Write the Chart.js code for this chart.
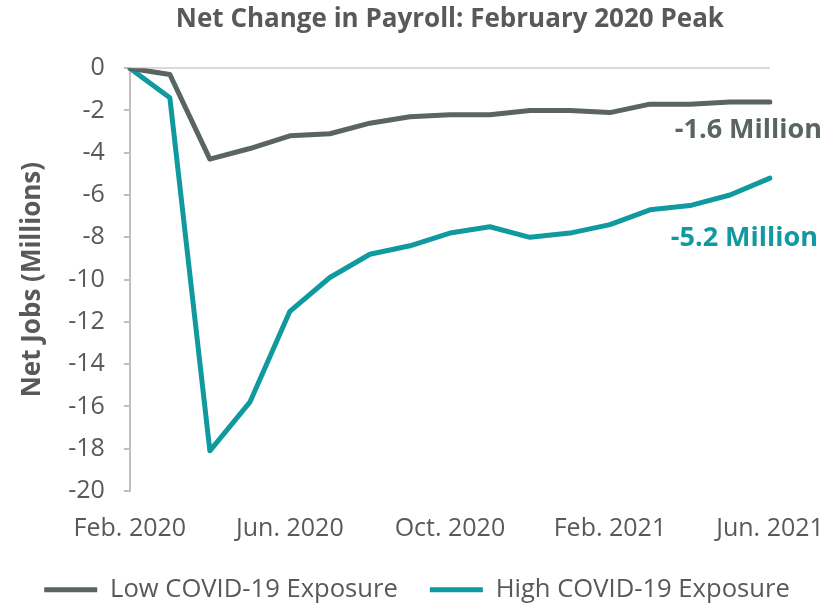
<!DOCTYPE html>
<html>
<head>
<meta charset="utf-8">
<script src="https://cdn.jsdelivr.net/npm/chart.js@4.4.1/dist/chart.umd.min.js"></script>
<style>
  html, body { margin: 0; padding: 0; background: #fff; }
  #wrap { width: 834px; height: 611px; }
</style>
</head>
<body>
<div id="wrap"><canvas id="payrollChart" width="834" height="611"></canvas></div>
<script>
// months from the February 2020 peak
const months = [
  "Feb. 2020", "Mar. 2020", "Apr. 2020", "May 2020", "Jun. 2020", "Jul. 2020",
  "Aug. 2020", "Sep. 2020", "Oct. 2020", "Nov. 2020", "Dec. 2020", "Jan. 2021",
  "Feb. 2021", "Mar. 2021", "Apr. 2021", "May 2021", "Jun. 2021"
];
const lowExposure = [0, -0.3, -4.3, -3.8, -3.2, -3.1, -2.6, -2.3, -2.2, -2.2, -2.0, -2.0, -2.1, -1.7, -1.7, -1.6, -1.6];
const highExposure = [0, -1.4, -18.1, -15.8, -11.5, -9.9, -8.8, -8.4, -7.8, -7.5, -8.0, -7.8, -7.4, -6.7, -6.5, -6.0, -5.2];
const shownMonths = ["Feb. 2020", "Jun. 2020", "Oct. 2020", "Feb. 2021", "Jun. 2021"];
const endLabels = ["-1.6 Million", "-5.2 Million"];

const LOW_COLOR = "#5a6460";
const HIGH_COLOR = "#109aa0";
const TEXT_COLOR = "#595959";
const FONT = "'Open Sans', sans-serif";

// writes the end value under each line's last point
const endLabelPlugin = {
  id: "endLabels",
  afterDatasetsDraw(chart) {
    const { ctx } = chart;
    ctx.save();
    ctx.font = `bold 27px ${FONT}`;
    ctx.textAlign = "right";
    ctx.textBaseline = "middle";
    chart.data.datasets.forEach((ds, i) => {
      const meta = chart.getDatasetMeta(i);
      const last = meta.data[meta.data.length - 1];
      ctx.fillStyle = ds.borderColor;
      ctx.fillText(endLabels[i], last.x + (i === 0 ? 52 : 48), last.y + (i === 0 ? 28 : 60));
    });
    ctx.restore();
  }
};

// keep the wide gap between legend items without a tall legend box
const legendHeightPlugin = {
  id: "legendHeight",
  beforeInit(chart) {
    const fit = chart.legend.fit;
    chart.legend.fit = function () {
      fit.call(this);
      this.height = 66;
    };
  }
};

const ctx = document.getElementById("payrollChart").getContext("2d");
const chart = new Chart(ctx, {
  type: "line",
  data: {
    labels: months,
    datasets: [
      {
        label: "Low COVID-19 Exposure",
        data: lowExposure,
        borderColor: LOW_COLOR,
        backgroundColor: LOW_COLOR,
        borderWidth: 5,
        borderCapStyle: "round",
        borderJoinStyle: "round",
        pointRadius: 0,
        tension: 0
      },
      {
        label: "High COVID-19 Exposure",
        data: highExposure,
        borderColor: HIGH_COLOR,
        backgroundColor: HIGH_COLOR,
        borderWidth: 5,
        borderCapStyle: "round",
        borderJoinStyle: "round",
        pointRadius: 0,
        tension: 0
      }
    ]
  },
  options: {
    responsive: false,
    animation: false,
    layout: { padding: { left: 0, right: 0, top: 0, bottom: 0 } },
    plugins: {
      title: {
        display: true,
        fullSize: false,
        text: "Net Change in Payroll: February 2020 Peak",
        color: TEXT_COLOR,
        font: { family: FONT, size: 26, weight: "bold" },
        padding: { top: 4, bottom: 33 }
      },
      legend: {
        position: "bottom",
        labels: {
          color: TEXT_COLOR,
          font: { family: FONT, size: 25.6 },
          usePointStyle: true,
          pointStyle: "line",
          pointStyleWidth: 53,
          boxHeight: 6,
          padding: 32
        }
      },
      tooltip: { enabled: false }
    },
    scales: {
      x: {
        offset: false,
        grid: { display: false, drawTicks: false, tickLength: 0 },
        border: { display: false },
        ticks: {
          color: TEXT_COLOR,
          font: { family: FONT, size: 25 },
          autoSkip: false,
          maxRotation: 0,
          padding: 23,
          callback(value) {
            const label = this.getLabelForValue(value);
            return shownMonths.includes(label) ? label : "";
          }
        },
        afterFit(scale) {
          scale.height = 54;
          scale.paddingRight = 64;
        }
      },
      y: {
        min: -20,
        max: 0,
        ticks: {
          stepSize: 2,
          color: TEXT_COLOR,
          font: { family: FONT, size: 25 },
          padding: 19
        },
        grid: {
          color: (c) => (c.tick && c.tick.value === 0 ? "#d9d9d9" : "rgba(0,0,0,0)"),
          tickColor: "#bfbfbf",
          tickLength: 6,
          lineWidth: 2
        },
        border: { display: true, color: "#bfbfbf", width: 2 },
        title: {
          display: true,
          text: "Net Jobs (Millions)",
          color: TEXT_COLOR,
          font: { family: FONT, size: 26, weight: "bold" },
          padding: { top: 17, bottom: 1 }
        }
      }
    }
  },
  plugins: [endLabelPlugin, legendHeightPlugin]
});
</script>
</body>
</html>
